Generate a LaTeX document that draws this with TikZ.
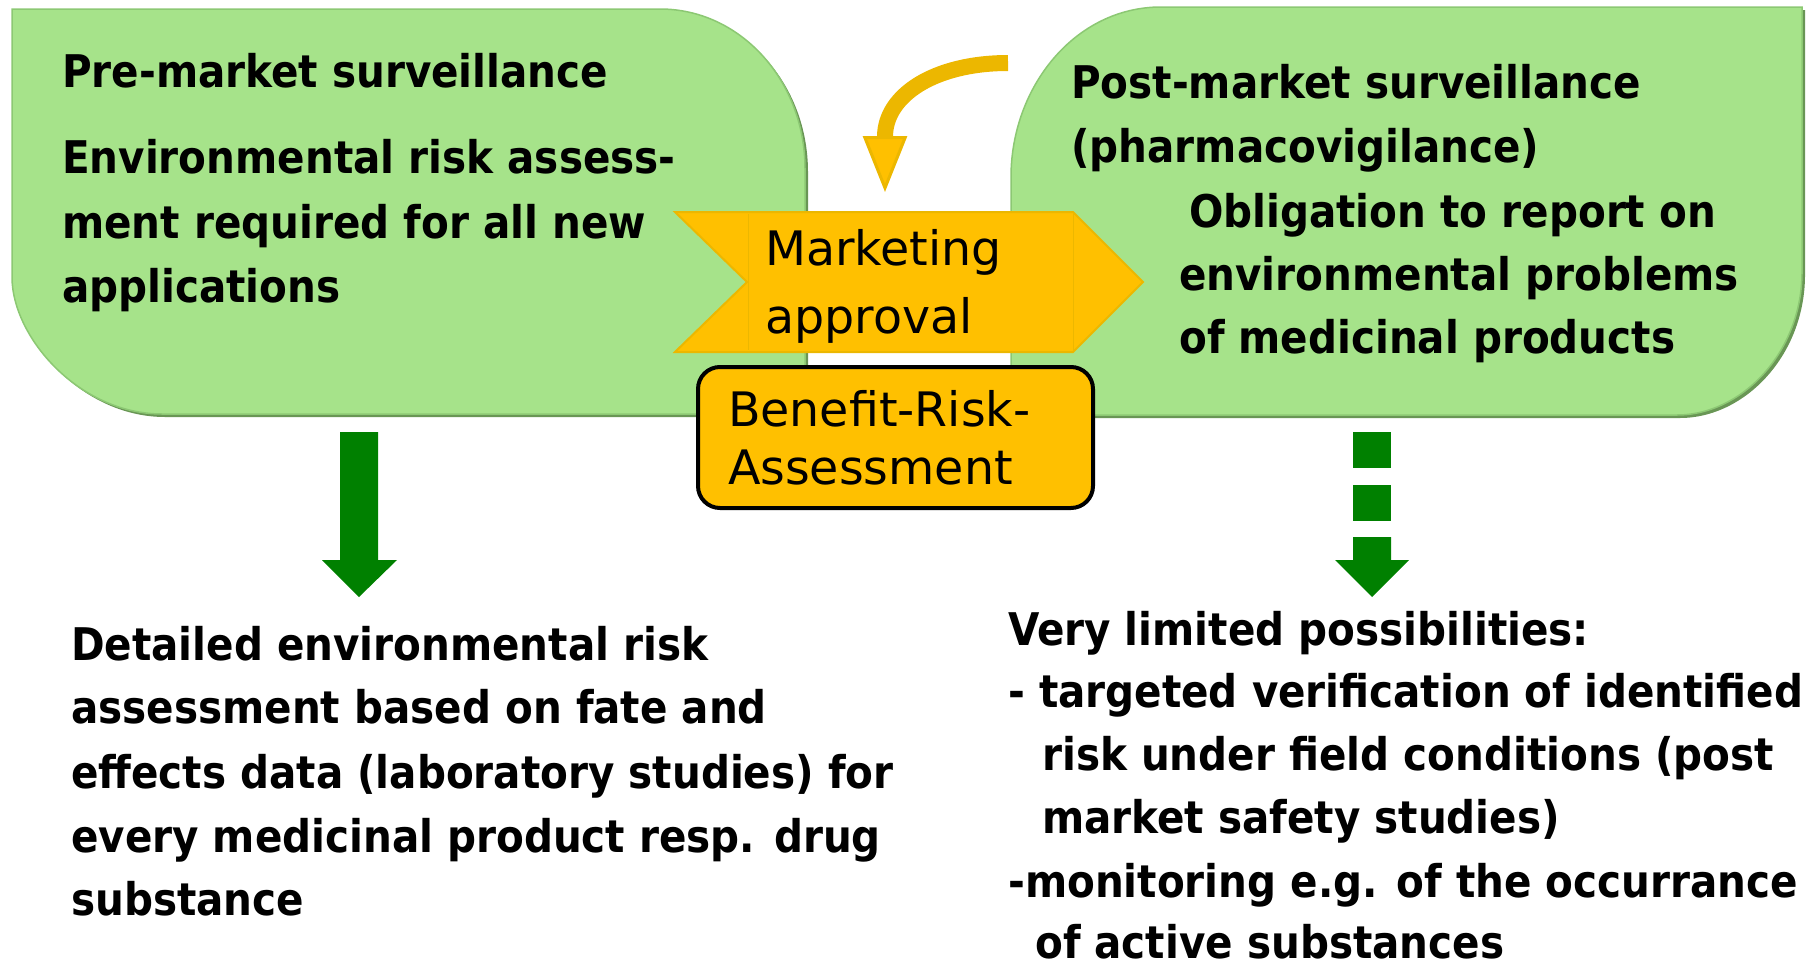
\documentclass[tikz,border=0pt]{standalone}
\usepackage{fontspec}
\setmainfont{DejaVu Sans}
\newfontfamily\condfont{DejaVu Sans Condensed}
\usetikzlibrary{arrows.meta}
\definecolor{boxgreen}{RGB}{166,227,138}
\definecolor{boxedge}{RGB}{140,200,115}
\definecolor{shadowgreen}{RGB}{105,150,85}
\definecolor{arrowgreen}{RGB}{0,128,0}
\definecolor{amber}{RGB}{255,192,0}
\definecolor{amberedge}{RGB}{236,183,0}
\tikzset{
  greenbox/.style={fill=boxgreen, draw=boxedge, line width=1.5pt},
  boxshadow/.style={fill=shadowgreen},
  boldtext/.style={font={\condfont\bfseries\fontsize{45}{64}\selectfont}, inner sep=0pt, anchor=base west},
  plaintext/.style={font={\fontsize{47.5}{68}\selectfont}, inner sep=0pt, anchor=base west},
  blockarrow/.style={fill=arrowgreen},
  chevron/.style={fill=amber, draw=amberedge, line width=2pt, line join=miter},
  brbox/.style={fill=amber, draw=black, line width=4pt, rounded corners=22pt, minimum width=395pt, minimum height=141pt, text width=335pt, align=left, inner sep=0pt, font={\fontsize{47.5}{58}\selectfont}},
  curvearrow/.style={draw=amberedge, line width=16pt, -{Triangle[length=56pt, width=44pt, fill=amber, line width=3pt]}}
}
\begin{document}
\begin{tikzpicture}[x=1pt,y=-1pt]
\useasboundingbox (0,0) rectangle (1812,969);
% left green box (shadow + box)
\fill[boxshadow] (15,12) -- (663,12) .. controls (743,12) and (808,83) .. (808,172) -- (808,417) -- (165,417) .. controls (82,417) and (15,340) .. (15,280) -- cycle;
\path[greenbox] (12,9) -- (660,9) .. controls (740,9) and (805,80) .. (805,169) -- (805,414) -- (162,414) .. controls (79,414) and (12,337) .. (12,277) -- cycle;
% right green box
\fill[boxshadow] (1014,180) .. controls (1014,90) and (1078,10) .. (1164,10) -- (1805,10) -- (1805,275) .. controls (1805,355) and (1745,418) .. (1680,418) -- (1014,418) -- cycle;
\path[greenbox] (1011,177) .. controls (1011,87) and (1075,7) .. (1161,7) -- (1802,7) -- (1802,272) .. controls (1802,352) and (1742,415) .. (1677,415) -- (1011,415) -- cycle;
% texts in left green box
\node[boldtext] (pre1) at (62,87) {Pre-market surveillance};
\node[boldtext] (pre2) at (62,173) {Environmental risk assess-};
\node[boldtext] (pre3) at (62,238) {ment required for all new};
\node[boldtext] (pre4) at (62,302) {applications};
% texts in right green box
\node[boldtext] (post1) at (1071,98) {Post-market surveillance};
\node[boldtext] (post2) at (1071,162) {(pharmacovigilance)};
\node[boldtext] (post3) at (1189,227) {Obligation to report on};
\node[boldtext] (post4) at (1179,290) {environmental problems};
\node[boldtext] (post5) at (1179,353) {of medicinal products};
% marketing approval chevron
\path[chevron] (675,212) -- (1073,212) -- (1143,282) -- (1073,352) -- (675,352) -- (747,282) -- cycle;
\draw[amberedge, line width=1pt] (748,214) -- (748,350) (1073,214) -- (1073,350);
\node[plaintext] (mk1) at (765,265) {Marketing};
\node[plaintext] (mk2) at (765,333) {approval};
% curved arrow
\coordinate (ctail) at (1008,63);
\coordinate (chead) at (885,192);
\draw[curvearrow] (ctail) .. controls (935,63) and (885,95) .. (chead);
% benefit-risk box
\node[brbox] (benefit) at (895.5,437.5) {Benefit-Risk-\\Assessment};
% green arrows
\fill[blockarrow] (340,432) -- (378,432) -- (378,560) -- (397,560) -- (359,597) -- (322,560) -- (340,560) -- cycle;
\fill[blockarrow] (1353,432) rectangle (1391,468);
\fill[blockarrow] (1353,485) rectangle (1391,521);
\fill[blockarrow] (1353,537) -- (1391,537) -- (1391,560) -- (1409,560) -- (1372,597) -- (1335,560) -- (1353,560) -- cycle;
% bottom left text
\node[boldtext] (d1) at (71,660) {Detailed environmental risk};
\node[boldtext] (d2) at (71,723) {assessment based on fate and};
\node[boldtext] (d3) at (71,788) {effects data (laboratory studies) for};
\node[boldtext] (d4) at (71,852) {every medicinal product resp. drug};
\node[boldtext] (d5) at (71,915) {substance};
% bottom right text
\node[boldtext] (l1) at (1008,645) {Very limited possibilities:};
\node[boldtext] (l2) at (1008,707) {- targeted verification of identified};
\node[boldtext] (l3) at (1042,770) {risk under field conditions (post};
\node[boldtext] (l4) at (1042,833) {market safety studies)};
\node[boldtext] (l5) at (1008,897) {-monitoring e.g. of the occurrance};
\node[boldtext] (l6) at (1035,958) {of active substances};
\end{tikzpicture}
\end{document}
